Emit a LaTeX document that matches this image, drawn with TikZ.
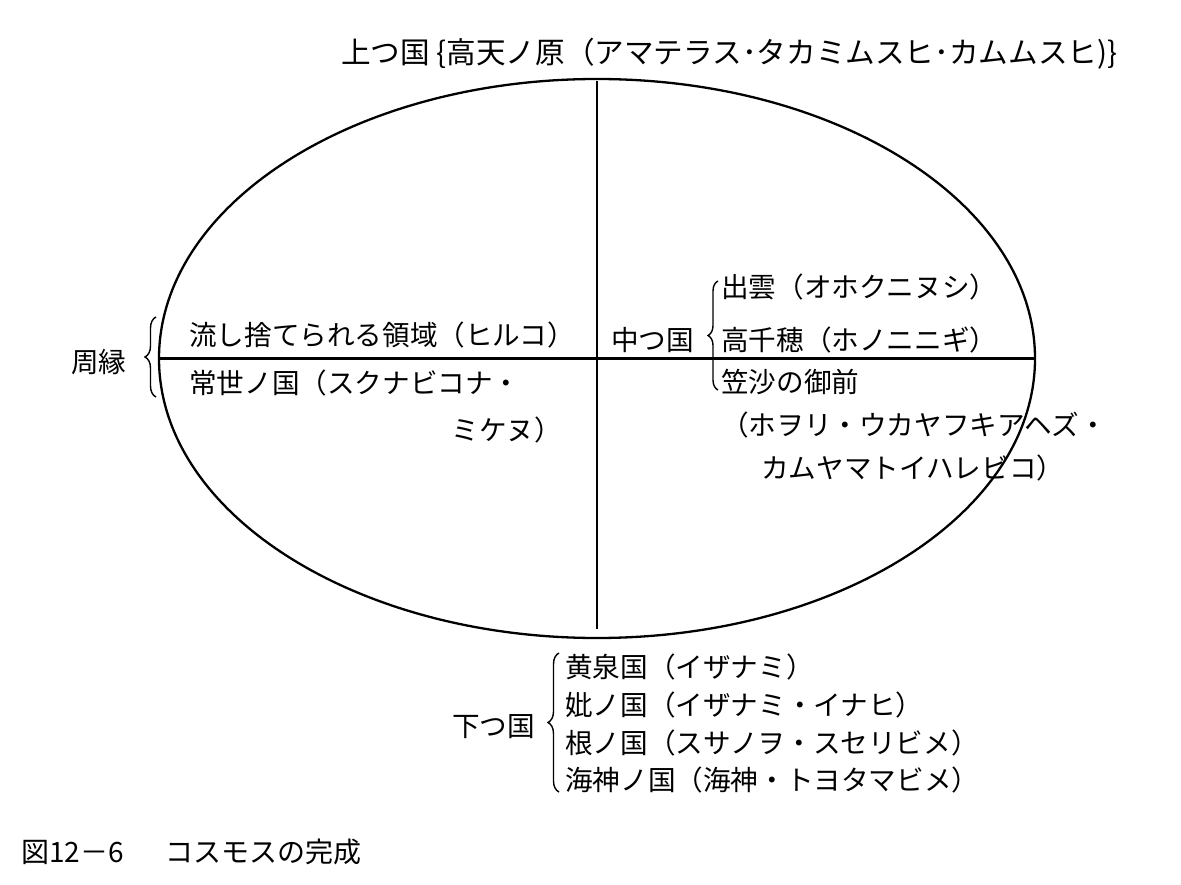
\documentclass[tikz,border=0pt]{standalone}
\usepackage{fontspec}
\setmainfont{Noto Sans CJK JP}
\usetikzlibrary{shapes.geometric}
\usetikzlibrary{decorations.pathreplacing}

\begin{document}
\begin{tikzpicture}[x=1pt, y=-1pt,
worldnode/.style={ellipse, draw=black, line width=2.3pt, inner sep=0pt, minimum width=876pt, minimum height=559pt},
divider/.style={draw=black, line width=2.3pt},
textnode/.style={anchor=west, inner sep=0pt, font=\fontsize{27.6}{31}\selectfont},
bigtext/.style={textnode, font=\fontsize{29.6}{33}\selectfont},
capnode/.style={textnode, font=\fontsize{28}{32}\selectfont},
bracket/.style={decorate, decoration={brace, amplitude=11pt}, line width=1.4pt}]
\useasboundingbox (0,0) rectangle (1181,885);
\node[worldnode] (cosmos) at (597,358.5) {};
\draw[divider, shorten <=3pt, shorten >=10pt] (cosmos.north) -- (cosmos.south);
\draw[divider, shorten <=2pt, shorten >=2pt] (cosmos.west) -- (cosmos.east);

\node[bigtext] (ue) at (341,54) {上つ国 \{高天ノ原（アマテラス･タカミムスヒ･カムムスヒ)\}};

\node[textnode] (rim) at (71,362) {周縁};
\node[textnode] (hiruko) at (189,335) {流し捨てられる領域（ヒルコ）};
\node[textnode] (tokoyo) at (189,383) {常世ノ国（スクナビコナ・};
\node[textnode, anchor=east] (tokoyob) at (562,430) {ミケヌ）};

\node[textnode] (naka) at (611,340) {中つ国};
\node[textnode] (izumo) at (721,287) {出雲（オホクニヌシ）};
\node[textnode] (takachiho) at (721,340) {高千穂（ホノニニギ）};
\node[textnode] (kasasa) at (721,382) {笠沙の御前};
\node[textnode] (kasasab) at (721,425) {（ホヲリ・ウカヤフキアヘズ・};
\node[textnode] (kasasac) at (761,468) {カムヤマトイハレビコ）};

\node[textnode] (shita) at (452,727) {下つ国};
\node[textnode] (yomi) at (565,667) {黄泉国（イザナミ）};
\node[textnode] (haha) at (565,705) {妣ノ国（イザナミ・イナヒ）};
\node[textnode] (ne) at (565,743) {根ノ国（スサノヲ・スセリビメ）};
\node[textnode] (wata) at (565,780) {海神ノ国（海神・トヨタマビメ）};

\node[capnode] (caption) at (21,852) {図12－6\hspace{1.5em}コスモスの完成};

% braces
\coordinate (rimtop) at (156,317);
\coordinate (rimbot) at (156,397);
\coordinate (nakatop) at (718,281);
\coordinate (nakabot) at (718,390);
\coordinate (shitatop) at (559,653);
\coordinate (shitabot) at (559,792);
\draw[bracket] (rimbot) -- (rimtop);
\draw[bracket, decoration={brace, amplitude=10pt}] (nakabot) -- (nakatop);
\draw[bracket] (shitabot) -- (shitatop);
\end{tikzpicture}
\end{document}
